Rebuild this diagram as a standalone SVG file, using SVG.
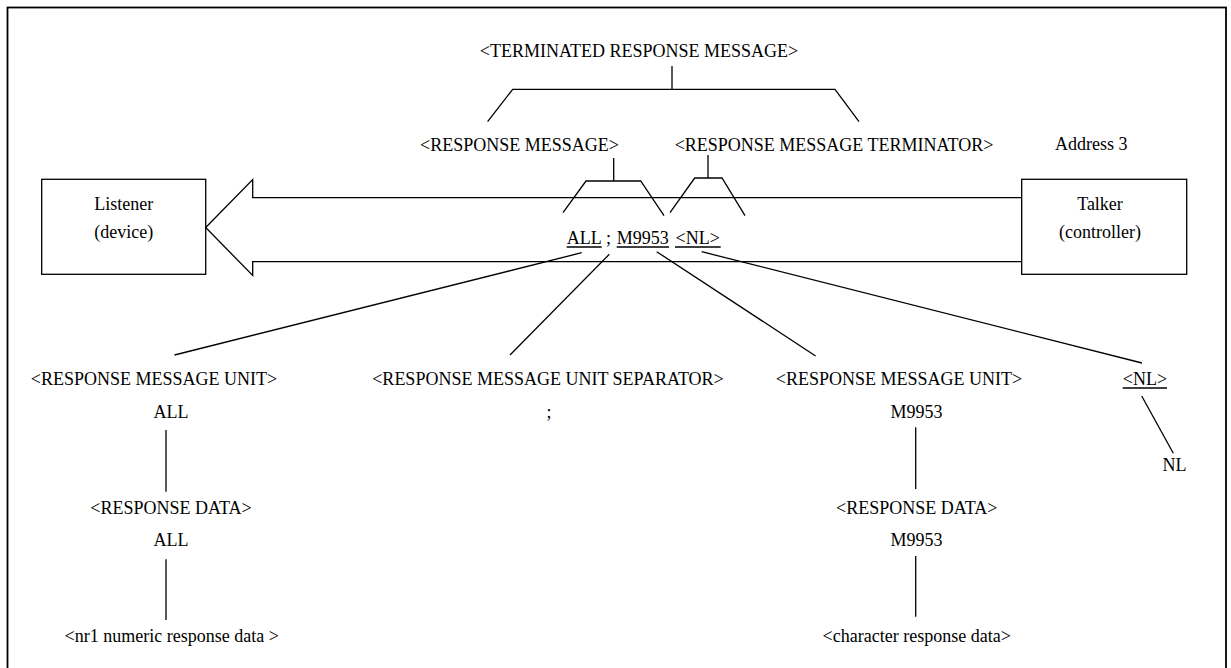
<svg xmlns="http://www.w3.org/2000/svg" width="1231" height="668" viewBox="0 0 1231 668">
  <style>
    text { font-family: "Liberation Serif", "Times New Roman", serif; font-size: 18px; fill: #000; }
    .c { text-anchor: middle; }
    .ln { fill: none; stroke: #000; stroke-width: 1.3; }
    .box { fill: #fff; stroke: #000; stroke-width: 1.3; }
  </style>
  <rect width="1231" height="668" fill="#fff"/>
  <!-- outer frame -->
  <rect x="7.5" y="7.5" width="1218.5" height="664" fill="none" stroke="#000" stroke-width="1.8"/>

  <!-- bus arrow from talker to listener -->
  <g id="bus-arrow">
    <polygon class="box" points="205.7,227.5 252.7,179.5 252.7,197.7 1021.7,197.7 1021.7,261.7 252.7,261.7 252.7,275.5"/>
  </g>

  <g id="listener">
    <rect class="box" x="41.7" y="179.3" width="164" height="95"/>
    <text class="c" x="123.7" y="209.5">Listener</text>
    <text class="c" x="123.7" y="237.5">(device)</text>
  </g>

  <g id="talker">
    <rect class="box" x="1021.7" y="179.3" width="165" height="95"/>
    <text class="c" x="1100" y="209.5">Talker</text>
    <text class="c" x="1100" y="237.5">(controller)</text>
  </g>

  <g id="address">
    <text x="1055" y="150">Address 3</text>
  </g>

  <g id="terminated-response-message">
    <text class="c" x="639" y="57">&lt;TERMINATED RESPONSE MESSAGE&gt;</text>
  </g>
  <g id="response-message">
    <text class="c" x="519.5" y="151">&lt;RESPONSE MESSAGE&gt;</text>
  </g>
  <g id="response-message-terminator">
    <text class="c" x="834" y="151">&lt;RESPONSE MESSAGE TERMINATOR&gt;</text>
  </g>

  <g id="message-string">
    <text y="243.5"><tspan x="566.7">ALL</tspan><tspan x="606">;</tspan><tspan x="616.7">M9953</tspan><tspan x="675.5">&lt;NL&gt;</tspan></text>
    <path class="ln" d="M566.7,247 H601.7 M616.7,247 H669 M675,247 H720.7"/>
  </g>

  <g id="unit-all">
    <text class="c" x="154" y="385">&lt;RESPONSE MESSAGE UNIT&gt;</text>
    <text class="c" x="171" y="418">ALL</text>
  </g>
  <g id="unit-separator">
    <text class="c" x="548" y="385">&lt;RESPONSE MESSAGE UNIT SEPARATOR&gt;</text>
    <text class="c" x="549" y="418">;</text>
  </g>
  <g id="unit-m9953">
    <text class="c" x="899" y="385">&lt;RESPONSE MESSAGE UNIT&gt;</text>
    <text class="c" x="916.5" y="418">M9953</text>
  </g>
  <g id="nl">
    <text class="c" x="1145" y="385">&lt;NL&gt;</text>
    <path class="ln" d="M1122.7,388 H1167"/>
    <text class="c" x="1174.5" y="470.5">NL</text>
  </g>

  <g id="data-all">
    <text class="c" x="171" y="514">&lt;RESPONSE DATA&gt;</text>
    <text class="c" x="171" y="546">ALL</text>
    <text class="c" x="171.7" y="641.5">&lt;nr1 numeric response data &gt;</text>
  </g>
  <g id="data-m9953">
    <text class="c" x="916.7" y="514">&lt;RESPONSE DATA&gt;</text>
    <text class="c" x="916.5" y="546">M9953</text>
    <text class="c" x="916.7" y="641.5">&lt;character response data&gt;</text>
  </g>

  <g id="connectors">
    <!-- top bracket -->
    <path class="ln" d="M672,66 V89.3 M487.6,121.7 L512.7,89.3 H835 L859,121.7"/>
    <!-- response message bracket -->
    <path class="ln" d="M613.7,158 V181 M563,212.7 L586,181 H640.7 L664,215.7"/>
    <!-- terminator bracket -->
    <path class="ln" d="M708,155 V178 M670,212.7 L694.7,178 H722 L745,215.7"/>
    <!-- fan-out to units -->
    <path class="ln" d="M581.7,252.7 L174.5,355"/>
    <path class="ln" d="M609.3,254.3 L510,355"/>
    <path class="ln" d="M656.7,251.7 L815.6,356"/>
    <path class="ln" d="M701.7,251.7 L1142,363"/>
    <!-- NL to NL -->
    <path class="ln" d="M1141.7,396 L1173.3,453.3"/>
    <!-- vertical chains -->
    <path class="ln" d="M166,430 V491.7 M166,559.3 V620"/>
    <path class="ln" d="M915.7,427.3 V489 M915.7,556 V616.7"/>
  </g>
</svg>
